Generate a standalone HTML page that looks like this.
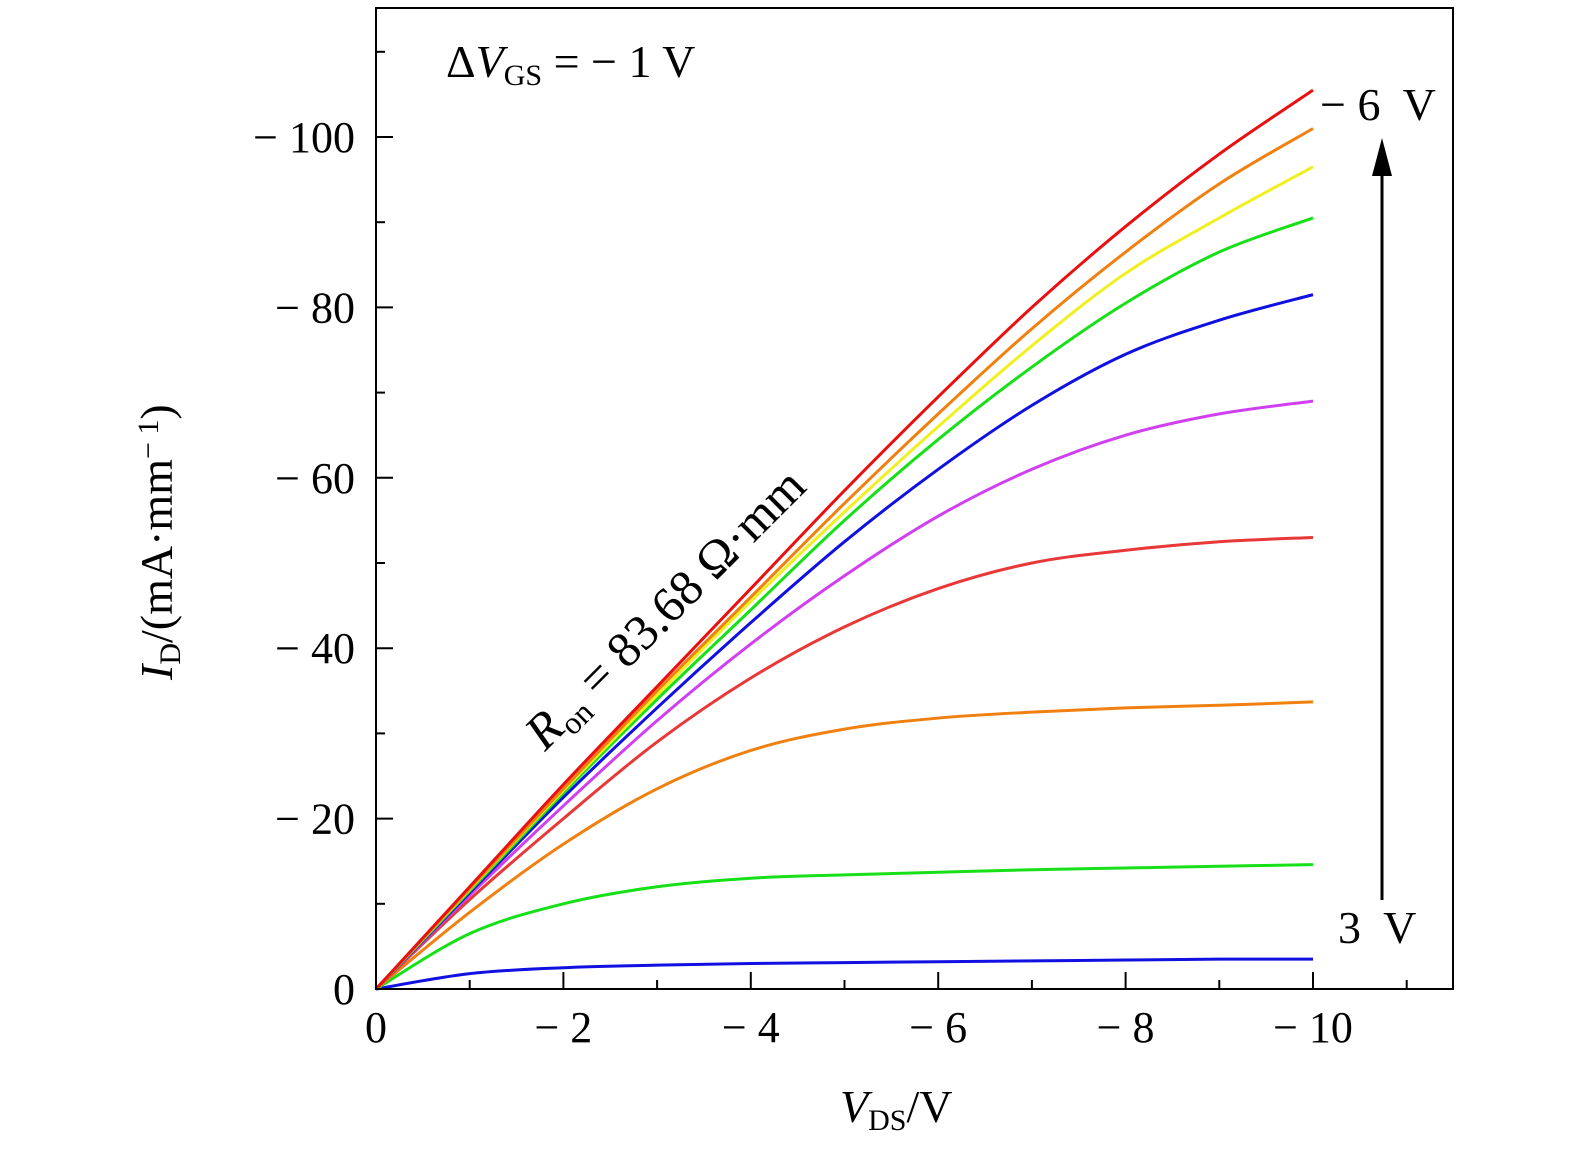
<!DOCTYPE html>
<html><head><meta charset="utf-8"><style>
html,body{margin:0;padding:0;background:#fff}
svg{display:block}
text{font-family:"Liberation Serif",serif;fill:#000}
</style></head><body>
<svg id="chart" width="1575" height="1152" viewBox="0 0 1575 1152">
<g id="ticks"></g>
<g id="curves"></g>
<rect x="376" y="8" width="1077" height="981" fill="none" stroke="#000" stroke-width="2"/>
<g id="labels" font-size="44"></g>
<text x="446" y="77" font-size="46">Δ<tspan font-style="italic">V</tspan><tspan font-size="30" dy="8">GS</tspan><tspan dy="-8"> = − 1  V</tspan></text>
<text x="1320" y="120" font-size="46" xml:space="preserve">− 6  V</text>
<text x="1338" y="943" font-size="46" xml:space="preserve">3  V</text>
<line x1="1382" y1="900" x2="1382" y2="170" stroke="#000" stroke-width="3"/>
<polygon points="1372,176 1392,176 1382,138" fill="#000"/>
<text transform="translate(545,752) rotate(-45)" font-size="50" xml:space="preserve"><tspan font-style="italic">R</tspan><tspan font-size="32" dy="9">on</tspan><tspan dy="-9"> = 83.68 Ω·mm</tspan></text>
<text x="840" y="1122" font-size="46"><tspan font-style="italic">V</tspan><tspan font-size="30" dy="8">DS</tspan><tspan dy="-8">/V</tspan></text>
<text transform="translate(172,680) rotate(-90)" font-size="46"><tspan font-style="italic">I</tspan><tspan font-size="30" dy="8">D</tspan><tspan dy="-8">/(mA·mm</tspan><tspan font-size="30" dy="-14">− 1</tspan><tspan dy="14">)</tspan></text>
</svg>
<script>
const vds=[0,1,2,3,4,5,6,7,8,9,10];
const seriesColors=["#1010e0","#18e018","#f08010","#e83838","#d040f0","#1010e0","#18e018","#f0f020","#f08010","#e81010"];
const s3=[0,1.8,2.5,2.8,3.0,3.1,3.2,3.3,3.4,3.5,3.5];
const s2=[0,6.5,10,12,13,13.4,13.7,14,14.2,14.4,14.6];
const s1=[0,9,17,23.5,28,30.5,31.8,32.5,33,33.3,33.7];
const s0=[0,10.5,20,29,36.5,42.5,47,50,51.5,52.5,53];
const sm1=[0,11,21.5,31.5,40.5,48.5,55.5,61,65,67.5,69];
const sm2=[0,11.3,22.5,33,43,52.5,61,68.5,74.5,78.5,81.5];
const sm3=[0,11.5,23,34,44.5,55,64.5,73,80.5,86.5,90.5];
const sm4=[0,11.7,23.3,34.5,45.5,56,66,75.5,84,90.5,96.5];
const sm5=[0,11.8,23.5,35,46,57,67.5,77.5,86.5,94.5,101];
const sm6=[0,12,24,35.5,47,58.5,69.5,80,89.5,98,105.5];
const seriesNames=["vgs-3","vgs-2","vgs-1","vgs-0","vgs-m1","vgs-m2","vgs-m3","vgs-m4","vgs-m5","vgs-m6"];
const series=[s3,s2,s1,s0,sm1,sm2,sm3,sm4,sm5,sm6];
const xTickLabels=["0","− 2","− 4","− 6","− 8","− 10"];
const yTickLabels=["0","− 20","− 40","− 60","− 80","− 100"];
const NS="http://www.w3.org/2000/svg";
const X=v=>376+v*93.7, Y=v=>989-v*8.52;
const tg=document.getElementById('ticks'),lg=document.getElementById('labels'),cg=document.getElementById('curves');
function mk(t,a,p){const e=document.createElementNS(NS,t);for(const k in a)e.setAttribute(k,a[k]);p.appendChild(e);return e;}
for(let i=1;i<=11;i++){const l=mk('line',{x1:X(i),x2:X(i),y1:989,y2:i%2?980:972,stroke:'#000','stroke-width':2},tg);

}
for(let i=1;i<=11;i++){const l=mk('line',{x1:376,x2:i%2?385:393,y1:Y(i*10),y2:Y(i*10),stroke:'#000','stroke-width':2},tg);

}
xTickLabels.forEach((s,i)=>{const t=mk('text',{x:X(i*2)-(i?0:0),y:1042,'text-anchor':'middle'},lg);t.textContent=s;

});
yTickLabels.forEach((s,i)=>{const t=mk('text',{x:355,y:Y(i*20)+15,'text-anchor':'end'},lg);t.textContent=s;

});
series.forEach((d,si)=>{const p=vds.map((v,i)=>[X(v),Y(d[i])]);
let s=`M${p[0][0]},${p[0][1]}`;
for(let i=0;i<p.length-1;i++){const a=p[Math.max(0,i-1)],b=p[i],c=p[i+1],e=p[Math.min(p.length-1,i+2)];
s+=` C${b[0]+(c[0]-a[0])/6},${b[1]+(c[1]-a[1])/6} ${c[0]-(e[0]-b[0])/6},${c[1]-(e[1]-b[1])/6} ${c[0]},${c[1]}`;}
const path=mk('path',{d:s,fill:'none',stroke:seriesColors[si],'stroke-width':3},cg);

});
</script>
</body></html>
